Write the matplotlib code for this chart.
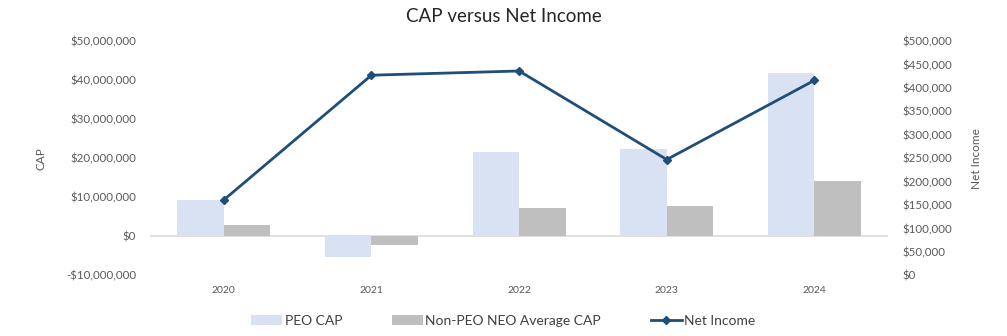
import matplotlib.pyplot as plt
import matplotlib.ticker as mticker
import numpy as np

plt.rcParams['font.family'] = ['Lato', 'DejaVu Sans']

# Data
years = ['2020', '2021', '2022', '2023', '2024']
peo_cap = [9.3e6, -5.4e6, 21.7e6, 22.4e6, 41.7e6]
non_peo_cap = [3.0e6, -2.2e6, 7.3e6, 7.7e6, 14.1e6]
net_income = [161000, 427000, 436000, 247000, 416000]

x = np.arange(len(years))
w = 0.315
grey = '#595959'

fig = plt.figure(figsize=(10.07, 3.36), dpi=100)
ax = fig.add_axes([0.149, 0.1806, 0.733, 0.6974])
ax2 = ax.twinx()

# Bars (left axis)
ax.bar(x - w / 2, peo_cap, width=w, color='#D9E2F3', label='PEO CAP', zorder=2)
ax.bar(x + w / 2, non_peo_cap, width=w, color='#BFBFBF', label='Non-PEO NEO Average CAP', zorder=2)
ax.axhline(0, color='#D9D9D9', lw=1.2, zorder=1)

# Line (right axis)
ax2.plot(x, net_income, color='#1F4E79', lw=2, marker='D', ms=4, label='Net Income')

ax.set_xlim(-0.5, len(years) - 0.5)
ax.set_ylim(-10e6, 50e6)
ax.yaxis.set_major_locator(mticker.MultipleLocator(10e6))
ax.yaxis.set_major_formatter(mticker.FuncFormatter(
    lambda v, p: ('-$' if v < 0 else '$') + f'{abs(v):,.0f}'))
ax2.set_ylim(0, 500000)
ax2.yaxis.set_major_locator(mticker.MultipleLocator(50000))
ax2.yaxis.set_major_formatter(mticker.FuncFormatter(lambda v, p: f'${v:,.0f}'))

ax.set_xticks(x)
ax.set_xticklabels(years)

for a in (ax, ax2):
    for s in a.spines.values():
        s.set_visible(False)
    a.tick_params(length=0, labelsize=8.3, colors=grey, pad=10)
ax.tick_params(axis='x', labelsize=7.5, pad=8)

ax.set_ylabel('CAP', color=grey, fontsize=8.5, labelpad=14)
ax2.set_ylabel('Net Income', color=grey, fontsize=8.5, labelpad=14)

fig.suptitle('CAP versus Net Income', fontsize=13.5, color='#262626', y=0.975)

h1, l1 = ax.get_legend_handles_labels()
h2, l2 = ax2.get_legend_handles_labels()
leg = fig.legend(h1 + h2, l1 + l2, loc='lower center', ncol=3, frameon=False,
                 fontsize=10, bbox_to_anchor=(0.5, -0.01), columnspacing=3.6,
                 handlelength=2.2, handletextpad=0.2)
for t in leg.get_texts():
    t.set_color('#404040')

fig.savefig('out.png', dpi=100)
